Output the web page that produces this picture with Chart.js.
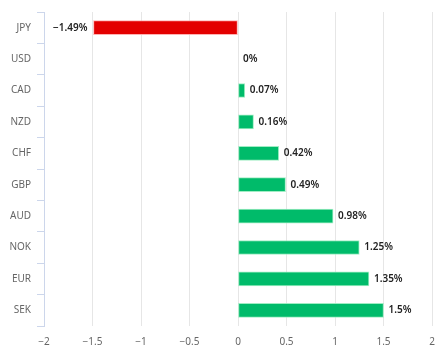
<!DOCTYPE html>
<html>
<head>
<meta charset="utf-8">
<script src="https://cdn.jsdelivr.net/npm/chart.js@4"></script>
<style>
html,body{margin:0;padding:0;background:#fff;}
canvas{display:block;}
</style>
</head>
<body>
<canvas id="c" width="446" height="356"></canvas>
<script>
const categories = ['JPY','USD','CAD','NZD','CHF','GBP','AUD','NOK','EUR','SEK'];
const values = [-1.49, 0, 0.07, 0.16, 0.42, 0.49, 0.98, 1.25, 1.35, 1.5];
const xTicks = [-2,-1.5,-1,-0.5,0,0.5,1,1.5,2];

const FONT = '"Noto Sans", "Open Sans", sans-serif';
const fmtNum = v => (v < 0 ? '\u2212' : '') + Math.abs(v);

const labelPlugin = {
  id: 'barLabels',
  afterDatasetsDraw(chart) {
    const ctx = chart.ctx;
    const meta = chart.getDatasetMeta(0);
    ctx.save();
    ctx.font = '600 10px ' + FONT;
    ctx.fillStyle = '#222';
    ctx.textBaseline = 'middle';
    meta.data.forEach((bar, i) => {
      const v = values[i];
      const txt = fmtNum(v) + '%';
      if (v < 0) {
        ctx.textAlign = 'right';
        ctx.fillText(txt, bar.x - 6, bar.y);
      } else {
        ctx.textAlign = 'left';
        ctx.fillText(txt, bar.x + 5, bar.y);
      }
    });
    ctx.restore();
  }
};

new Chart(document.getElementById('c'), {
  type: 'bar',
  data: {
    labels: categories,
    datasets: [{
      data: values,
      backgroundColor: values.map(v => v < 0 ? '#e30000' : '#00bb6a'),
      borderColor: values.map(v => v < 0 ? 'rgba(255,170,170,0.9)' : 'rgba(150,235,190,0.9)'),
      borderWidth: 1,
      borderSkipped: false,
      barThickness: 14
    }]
  },
  options: {
    indexAxis: 'y',
    responsive: false,
    animation: false,
    devicePixelRatio: 1,
    layout: { padding: { top: 8, right: 14, left: 0, bottom: 0 } },
    plugins: { legend: { display: false }, tooltip: { enabled: false } },
    scales: {
      x: {
        type: 'linear',
        min: -2, max: 2,
        afterBuildTicks: s => { s.ticks = xTicks.map(v => ({ value: v })); },
        afterFit: s => { s.height = 30; },
        grid: { color: '#e6e6e6', drawTicks: false, lineWidth: 1 },
        border: { display: false },
        ticks: {
          padding: 10,
          color: '#666',
          font: { family: FONT, size: 10 },
          callback: v => fmtNum(v),
          maxRotation: 0
        }
      },
      y: {
        afterFit: s => { s.width = 44; },
        grid: { drawOnChartArea: false, drawTicks: true, tickLength: 7, color: '#ccd6eb', offset: true },
        border: { display: true, color: '#ccd6eb' },
        ticks: {
          padding: 6,
          color: '#666',
          font: { family: FONT, size: 10 }
        }
      }
    }
  },
  plugins: [labelPlugin]
});
</script>
</body>
</html>
